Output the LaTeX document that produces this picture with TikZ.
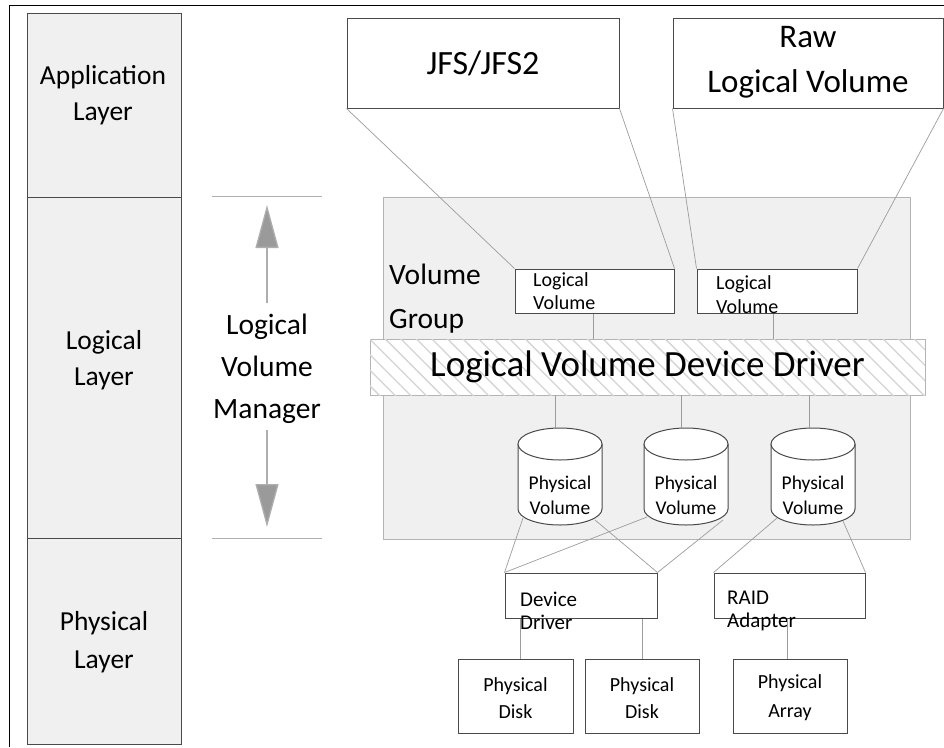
\documentclass[tikz,border=0pt]{standalone}
\usepackage{fontspec}
\setmainfont{Carlito}
\usetikzlibrary{patterns.meta,arrows.meta}
\definecolor{panel}{HTML}{F0F0F0}
\definecolor{edgec}{HTML}{4A4A4A}
\definecolor{connc}{HTML}{9C9C9C}
\definecolor{vgedge}{HTML}{B4B4B4}
\definecolor{arrowc}{HTML}{9A9A9A}
\definecolor{hatchc}{HTML}{D4D4D4}
\newcommand{\fsz}[2]{\fontsize{#1}{#2}\selectfont}
\newcommand{\pvcyl}[2]{%
  \draw[cylstyle] ({#2-42},444) -- ({#2-42},509)
    .. controls ({#2-42},517.8) and ({#2-23.2},525) .. (#2,525)
    .. controls ({#2+23.2},525) and ({#2+42},517.8) .. ({#2+42},509)
    -- ({#2+42},444);
  \draw[cylstyle] (#2,444) ellipse [x radius=42pt, y radius=16pt];
  \node[inner sep=0, minimum width=84pt, minimum height=97pt] (#1) at (#2,476.5) {};
  \node[lbl, font=\fsz{19.5}{25}] (#1t) at (#2,495) {Physical\\Volume};
}
\begin{document}
\begin{tikzpicture}[x=1pt,y=-1pt,
  layerbox/.style={draw=edgec, fill=panel, line width=0.8pt, inner sep=0, minimum width=154pt},
  box/.style={draw=edgec, fill=white, line width=1pt, inner sep=0},
  conn/.style={draw=connc, line width=0.7pt},
  lbl/.style={align=center, inner sep=0},
  lbll/.style={align=left, inner sep=0, anchor=west},
  cylstyle/.style={draw=edgec, fill=white, line width=1pt},
  lvmarrow/.style={draw=arrowc!80, line width=1.3pt, -{Triangle[width=23pt,length=43pt,fill=arrowc]}}
]
\useasboundingbox (0,0) rectangle (944,747);
\fill[white] (0,0) rectangle (944,747);
% frame
\draw[black, line width=1pt] (9,747) -- (9,5) -- (944,5);

% left column
\node[layerbox, minimum height=184pt] (app) at (104,105) {};
\node[layerbox, minimum height=341pt] (logl) at (104,367.5) {};
\node[layerbox, minimum height=206pt] (phys) at (104,641) {};
\node[lbl, font=\fsz{27.5}{36}] (appt) at (103,95) {Application\\Layer};
\node[lbl, font=\fsz{27.5}{36}] (loglt) at (104,360) {Logical\\Layer};
\node[lbl, font=\fsz{27.5}{38}] (physt) at (104,642) {Physical\\Layer};

% LVM
\draw[connc!80, line width=1pt] (212,196) -- (322,196);
\draw[connc!80, line width=1pt] (212,538) -- (322,538);
\node[lbl, font=\fsz{29.5}{42}] (lvm) at (267,369) {Logical\\Volume\\Manager};
\coordinate (upend) at (267,205);
\coordinate (dnend) at (267,527);
\draw[lvmarrow] (267,303) -- (upend);
\draw[lvmarrow] (267,430) -- (dnend);

% volume group
\node[draw=vgedge, fill=panel, line width=0.9pt, inner sep=0, minimum width=527pt, minimum height=342pt] (vg) at (646.5,368) {};
\node[lbll, font=\fsz{29.5}{44}] (vgt) at (389,299) {Volume\\Group};

% application boxes
\node[box, minimum width=272pt, minimum height=90pt, font=\fsz{34}{40}] (jfs) at (483,63) {JFS/JFS2};
\node[box, minimum width=270pt, minimum height=90pt] (raw) at (808,63) {};
\node[lbl, font=\fsz{33}{45}] (rawt) at (808,62.5) {Raw\\Logical Volume};

% logical volumes
\node[box, minimum width=159pt, minimum height=44pt] (lv1) at (594.5,291) {};
\node[lbll, font=\fsz{20}{23}] (lv1t) at (533,291.5) {Logical\\Volume};
\node[box, minimum width=160pt, minimum height=44pt] (lv2) at (777,291) {};
\node[lbll, font=\fsz{20}{24}] (lv2t) at (716,294.5) {Logical\\Volume};

% device driver band
\node[draw=vgedge, fill=white, line width=0.9pt, inner sep=0, minimum width=555pt, minimum height=56pt,
  postaction={pattern={Lines[angle=-45,distance=11pt,line width=1.3pt]}, pattern color=hatchc},
  font=\fsz{37}{40}] (lvdd) at (647.5,367) {Logical Volume Device Driver};

% physical volumes
\pvcyl{pv1}{560}
\pvcyl{pv2}{686}
\pvcyl{pv3}{813}

% device driver / raid
\node[box, minimum width=152pt, minimum height=45pt] (dd) at (581,595.5) {};
\node[box, minimum width=151pt, minimum height=45pt] (raid) at (789.5,595.5) {};
\node[lbll, font=\fsz{21}{23}] (ddt) at (520,610.5) {Device\\Driver};
\node[lbll, font=\fsz{21}{23}] (raidt) at (727,610.5) {RAID\\Adapter};

% physical disks
\node[box, minimum width=115pt, minimum height=74pt] (pd1) at (515.5,696) {};
\node[box, minimum width=114pt, minimum height=74pt] (pd2) at (642,696) {};
\node[box, minimum width=114pt, minimum height=74pt] (pa) at (790,696) {};
\node[lbl, font=\fsz{20}{27}] (pd1t) at (515.5,698.5) {Physical\\Disk};
\node[lbl, font=\fsz{20}{27}] (pd2t) at (642,698.5) {Physical\\Disk};
\node[lbl, font=\fsz{20}{29}] (pat) at (790,697.5) {Physical\\Array};

% connector coordinates
\coordinate (x1) at (593,0);
\coordinate (x2) at (773,0);
\coordinate (x3) at (555,0);
\coordinate (x4) at (681,0);
\coordinate (x5) at (809,0);
\coordinate (x6) at (520,0);
\coordinate (x7) at (642,0);
\coordinate (x8) at (787,0);
\coordinate (pv1bl) at (523,518);
\coordinate (pv1br) at (595,520);
\coordinate (pv2bl) at (647,517);
\coordinate (pv2br) at (723,520);
\coordinate (pv3bl) at (777,518);
\coordinate (pv3br) at (843,521);

% connectors
\draw[conn] (jfs.south west) -- (lv1.north west);
\draw[conn] (jfs.south east) -- (lv1.north east);
\draw[conn] (raw.south west) -- (lv2.north west);
\draw[conn] (raw.south east) -- (lv2.north east);
\draw[conn] (lv1.south -| x1) -- (lvdd.north -| x1);
\draw[conn] (lv2.south -| x2) -- (lvdd.north -| x2);
\draw[conn] (lvdd.south -| x3) -- (pv1.north -| x3);
\draw[conn] (lvdd.south -| x4) -- (pv2.north -| x4);
\draw[conn] (lvdd.south -| x5) -- (pv3.north -| x5);
\draw[conn] (pv1bl) -- (dd.north west);
\draw[conn] (pv1br) -- (dd.north east);
\draw[conn] (pv2bl) -- (dd.north west);
\draw[conn] (pv2br) -- (dd.north east);
\draw[conn] (pv3bl) -- (raid.north west);
\draw[conn] (pv3br) -- (raid.north east);
\draw[conn] (dd.south -| x6) -- (pd1.north -| x6);
\draw[conn] (dd.south -| x7) -- (pd2.north -| x7);
\draw[conn] (raid.south -| x8) -- (pa.north -| x8);
\end{tikzpicture}
\end{document}
